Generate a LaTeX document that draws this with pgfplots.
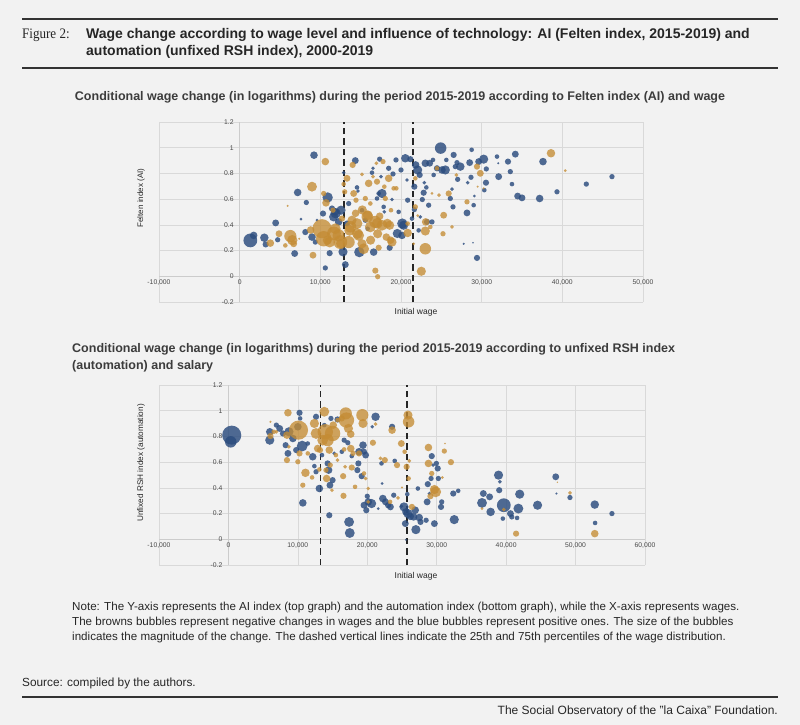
\documentclass[border=0pt]{standalone}
\usepackage{pgfplots}
\usepackage{pgfplotstable}
\pgfplotsset{compat=1.18}
\usepackage{fontspec}
\setmainfont{Liberation Sans}
\newfontfamily\serifcond{Liberation Serif}[FakeStretch=0.9]
\definecolor{bg}{HTML}{F2F2F2}
\definecolor{cBlue}{HTML}{2B4C7E}
\definecolor{cBrown}{HTML}{C48C34}
\definecolor{txt}{HTML}{262626}
\definecolor{gridc}{HTML}{D9D9D9}
\definecolor{rulec}{HTML}{333333}

% Top chart: wage, Felten index, bubble radius (pt)
\pgfplotstableread{
w v r
1322 0.279 6
1735 0.318 3.3
3058 0.300 3.7
3223 0.248 2.7
4463 0.415 3
4711 0.284 2.3
6818 0.177 3
7190 0.652 3.3
8264 0.574 2.3
7603 0.444 1.3
8140 0.344 2.7
9214 0.942 3.3
8967 0.305 3.3
9380 0.266 2.3
9586 0.436 1.3
10330 0.488 2.7
10619 0.065 2.3
10908 0.613 4.5
11156 0.180 2.7
11446 0.527 2.7
11652 0.462 4
11859 0.501 3.3
11900 0.490 4.5
12272 0.423 3.3
12561 0.514 4
12809 0.190 4
12892 0.806 1.7
13098 0.091 3
13305 0.410 2.7
13512 0.566 2.3
14338 0.900 3
14545 0.691 2
14669 0.663 1.7
14834 0.188 4.5
15164 0.514 2
15578 0.436 2.3
15867 0.370 2
16404 0.806 2
16528 0.840 1.7
16611 0.188 3.3
17024 0.605 2
17230 0.644 2
17354 0.911 2.3
17520 0.775 1.7
17644 0.644 4
17850 0.540 2
17933 0.501 1.7
18470 0.840 2.3
18594 0.222 2.7
18883 0.597 1.7
19007 0.796 2.3
19379 0.905 2.3
19540 0.333 4
19710 0.501 2
19999 0.827 2.3
20123 0.318 3.3
20160 0.410 4.5
20329 0.397 4
20536 0.918 3.7
20743 0.749 1.7
20825 0.592 2.3
21156 0.911 2.7
21362 0.449 2
21652 0.519 2.3
21652 0.697 2.7
21817 0.866 3.3
22065 0.827 4
22189 0.357 2
22313 0.788 2.7
22395 0.462 1.7
22643 0.597 2.3
22809 0.650 2.7
22891 0.728 1.7
23015 0.879 3.3
23139 0.691 2
23222 0.423 2.7
23428 0.553 2.3
23552 0.879 3
23842 0.423 2.3
23966 0.905 2
24048 0.788 2
24461 0.840 2.7
24916 0.997 5
25081 0.827 3.3
25494 0.827 4
25618 0.905 2
26114 0.605 2.3
26321 0.678 1.7
26445 0.540 2.3
26527 0.944 2.7
26734 0.853 2.3
26941 0.884 2.3
27023 0.754 2.3
27354 0.853 3.7
28180 0.493 3
28263 0.728 1.7
28511 0.884 3
28676 0.770 2.3
28759 0.984 2
29007 0.553 2
29089 0.624 1.3
29420 0.143 2.7
29626 0.892 3
30246 0.911 4
30329 0.670 2
30535 0.728 2.7
30577 0.835 2.3
31899 0.931 2
32106 0.775 3
32064 0.879 1
33263 0.892 2.7
33552 0.814 2.3
33758 0.717 2
34172 0.950 3
34461 0.624 3
34998 0.610 3
37188 0.605 3.3
37601 0.892 3.3
39337 0.657 2.3
42973 0.717 2.3
46154 0.775 2.3
27767 0.253 1
28924 0.261 0.7
}\topblue

\pgfplotstableread{
w v r
3801 0.258 3.3
4876 0.331 3
5661 0.240 2
5950 0.548 1
6281 0.313 5.3
6530 0.281 4.5
6694 0.253 3
7396 0.292 1
8800 0.360 3.3
8967 0.697 4.3
9090 0.164 3
10206 0.370 8.3
10413 0.292 6.7
10619 0.892 3.3
10413 0.644 2.3
10702 0.571 3.3
10870 0.281 4
11156 0.266 4.7
11570 0.514 2.3
11690 0.333 6
11859 0.370 4.7
12272 0.318 5.3
12479 0.266 6
12520 0.255 4
12685 0.449 2.7
12892 0.717 2
13016 0.657 2.3
13305 0.762 3
13512 0.266 5.3
13636 0.357 4.7
13750 0.385 5
13925 0.436 4
14007 0.866 2.7
14131 0.644 3
14370 0.490 3.3
14421 0.592 2.3
14545 0.410 4.7
14580 0.333 4.7
14751 0.318 4.7
15164 0.253 4
15200 0.516 4
15371 0.214 4.7
15164 0.793 1.7
15578 0.605 2.3
15820 0.463 5
15867 0.475 4.3
15991 0.723 3.3
16197 0.566 2
16197 0.384 4.7
16230 0.281 4
16528 0.775 1.7
16817 0.423 5.3
16941 0.879 1.7
17024 0.736 2.7
17060 0.412 4.7
17106 0.331 4
17230 0.222 2.7
17354 0.467 3.3
17644 0.397 4.7
17768 0.892 2.3
17933 0.697 2
18057 0.605 2.3
18181 0.305 3.3
18300 0.412 4
18470 0.762 3.3
18594 0.397 4
18710 0.281 3.3
18759 0.514 2
18883 0.266 4
19090 0.684 2
19420 0.684 2
16817 0.044 2.7
17106 -0.003 2.3
20825 0.337 3.7
20825 0.410 2
21569 0.253 1.3
21776 0.540 2.3
21776 0.762 2
22065 0.472 1.3
22519 0.039 4
23015 0.214 5
23015 0.352 4
23057 0.423 3.3
23635 0.384 2
23842 0.644 1.3
24461 0.840 2
24710 0.631 1.7
25205 0.331 2.3
25288 0.475 3
25908 0.644 2.7
26321 0.384 1.7
26858 0.788 1.7
28180 0.579 2.3
29420 0.853 2.7
29833 0.801 3
30246 0.684 1
38593 0.957 3.7
40370 0.822 1.3
29502 0.697 1
}\topbrown

% Bottom chart: wage, unfixed RSH index, bubble radius (pt)
\pgfplotstableread{
w v r
476 0.810 8.3
333 0.758 5
5953 0.771 4
5953 0.836 3.3
6905 0.888 2.3
7381 0.862 3
7857 0.823 2.7
8238 0.732 2.7
8572 0.668 3
8714 0.836 4
9286 0.784 3.3
9762 0.694 2.7
10000 0.875 3.3
10238 0.984 2.7
10334 0.940 2
10619 0.725 4.7
10715 0.283 3.3
11429 0.745 2
12143 0.642 3.3
12381 0.569 2
12619 0.953 2.7
12619 0.525 2.3
13096 0.395 3.3
13476 0.655 2
13810 0.888 2
14286 0.590 2.7
14429 0.538 3.3
14524 0.187 2.7
14619 0.421 3
14762 0.940 2.3
15000 0.460 2.7
15238 0.668 1.7
15715 0.932 2.7
16334 0.681 2
16667 0.771 2.3
17191 0.751 2.3
17381 0.135 4.3
17477 0.049 4.3
17762 0.647 2
18572 0.538 2.7
18715 0.590 2.7
18810 0.681 3.3
19191 0.491 2.7
19381 0.732 3.3
19524 0.265 3
19524 0.681 2.7
19762 0.655 3
19858 0.226 2.7
20000 0.335 2.3
20143 0.291 3.3
20619 0.278 4
21191 0.953 3.7
20715 0.875 1.7
21572 0.239 1.3
22048 0.590 2
22143 0.434 1.3
22239 0.317 3.3
22620 0.291 3
23000 0.265 2.7
23334 0.252 3
23572 0.875 2.7
23810 0.343 2.3
23953 0.610 2
24905 0.257 1.7
25286 0.252 4
25477 0.122 3
25572 0.213 3.3
25762 0.351 2
25858 0.200 4
26191 0.179 3.3
26667 0.174 3.3
26905 0.226 3.3
27001 0.075 4
27286 0.395 2
27477 0.169 3.3
27667 0.135 2.7
28477 0.148 2.3
28620 0.291 3
28715 0.429 2.7
28953 0.356 1.7
29191 0.473 2.3
29286 0.647 2.7
29477 0.577 1.7
29667 0.122 3
29953 0.590 2.3
30143 0.551 2.7
30239 0.473 2.3
30620 0.252 2.7
30715 0.291 2.3
32382 0.356 2.7
32524 0.153 4
33096 0.377 2
36525 0.283 4.3
36715 0.356 3
37620 0.330 3
37763 0.213 3.7
38906 0.499 4
39001 0.382 2.7
39096 0.447 1.7
39525 0.161 2
39667 0.265 6
40620 0.200 3
40810 0.174 2.3
41572 0.166 2
41763 0.239 4.3
41953 0.351 4
44525 0.265 4
47144 0.486 3
47239 0.356 1
49191 0.325 2.3
52763 0.270 3.7
52811 0.127 2
55239 0.200 2.3
25572 -0.003 1
}\botblue

\pgfplotstableread{
w v r
6048 0.803 2.7
6524 0.836 2
6905 0.836 1.7
6048 0.914 1
8572 0.984 3.3
8429 0.810 3.3
8429 0.616 2.7
8714 0.719 1.7
10000 0.603 2.3
10095 0.849 8.3
10238 0.668 2.7
10715 0.421 2.3
11095 0.517 3.7
11429 0.668 2
12048 0.481 2
12381 0.901 4
12619 0.823 4.7
12857 0.706 3.3
13096 0.543 2
13191 0.694 2.7
13572 0.771 4.7
13810 0.992 4.3
13953 0.836 6.7
14048 0.538 2.3
14143 0.473 3.3
14286 0.771 5.3
14524 0.694 3.3
14667 0.577 2.3
14905 0.382 1.7
15000 0.823 6.7
15096 0.888 3.3
15477 0.655 2
15715 0.616 1.7
15715 0.927 2
16334 0.940 2.7
16524 0.491 2.7
16572 0.338 2.7
16667 0.699 2
16810 0.564 1.7
16905 0.979 5.3
17000 0.927 6.7
17286 0.862 4
17619 0.818 3.3
17619 0.706 3.3
17762 0.558 2.7
17953 0.668 2.3
18238 0.408 2
18810 0.668 2.7
19286 0.966 5.3
19381 0.901 4
19524 0.512 2
19762 0.473 1.7
20143 0.395 1.7
20143 0.291 1.7
20810 0.751 2.7
21191 0.896 1.7
21905 0.629 1.7
22524 0.616 2.7
23572 0.849 3.3
23286 0.291 2
24286 0.577 2.7
24429 0.322 1.7
24905 0.745 3
25000 0.403 1
25381 0.681 2
25667 0.564 2.7
25858 0.966 4
25953 0.914 5
25953 0.473 2
26048 0.610 1.7
26429 0.252 2.7
28810 0.714 3.3
28810 0.590 3.3
29096 0.335 2.7
29286 0.512 2.3
29667 0.387 4
29858 0.369 4.7
30810 0.481 1.3
31096 0.686 2.3
32048 0.600 2.7
31191 0.745 0.7
41429 0.044 2.7
52763 0.044 3.3
49191 0.361 1.7
47382 0.444 0.7
39667 0.231 1.7
36525 0.239 1.3
}\botbrown

\pgfplotsset{
  bub/.style={
    scale only axis, height=180pt,
    axis lines=middle,
    axis line style={draw=gridc!85!gray, line width=0.6pt, -},
    grid=major, major grid style={draw=gridc, line width=0.6pt},
    major tick length=0pt,
    hide obscured x ticks=false, hide obscured y ticks=false,
    scaled x ticks=false, scaled y ticks=false,
    ymin=-0.2, ymax=1.2,
    ytick={-0.2,0,0.2,0.4,0.6,0.8,1,1.2},
    yticklabels={-0.2,0,0.2,0.4,0.6,0.8,1,1.2},
    tick label style={font=\fontsize{6.8}{8}\selectfont, text=black!72},
    yticklabel style={xshift=-2.5pt},
    clip=false, anchor=south west,
  },
  blueb/.style={only marks, mark=*, scatter,
    mark options={draw=none},
    scatter/use mapped color={draw=none, draw opacity=0, fill=cBlue},
    fill opacity=0.82,
    visualization depends on={1.15*\thisrow{r} \as \rad},
    scatter/@pre marker code/.append style={/tikz/mark size=\rad pt}},
  brownb/.style={only marks, mark=*, scatter,
    mark options={draw=none},
    scatter/use mapped color={draw=none, draw opacity=0, fill=cBrown},
    fill opacity=0.78,
    visualization depends on={1.15*\thisrow{r} \as \rad},
    scatter/@pre marker code/.append style={/tikz/mark size=\rad pt}},
  pct/.style={black!85, line width=1.3pt, dash pattern=on 6.5pt off 4pt},
}

\begin{document}
\begin{tikzpicture}
\fill[bg] (0,0) rectangle (800pt,-725pt);
% header
\draw[rulec, line width=2pt] (22pt,-19pt) -- (778pt,-19pt);
\node[anchor=west, inner sep=0, text=txt] at (22pt,-35pt) {\serifcond\fontsize{14.5}{16}\selectfont Figure 2:};
\node[anchor=west, inner sep=0, text=txt] at (86pt,-35pt) {\fontsize{14}{16}\selectfont\bfseries Wage change according to wage level and influence of technology: AI (Felten index, 2015-2019) and};
\node[anchor=west, inner sep=0, text=txt] at (86pt,-52pt) {\fontsize{14}{16}\selectfont\bfseries automation (unfixed RSH index), 2000-2019};
\draw[rulec, line width=2pt] (22pt,-68pt) -- (778pt,-68pt);

\node[inner sep=0, text=txt!90] at (400pt,-97pt) {\fontsize{12.5}{14}\selectfont\bfseries Conditional wage change (in logarithms) during the period 2015-2019 according to Felten index (AI) and wage};

% top chart
\begin{axis}[bub, at={(159pt,-302pt)}, width=484pt,
  xmin=-10000, xmax=50000,
  xtick={-10000,0,10000,20000,30000,40000,50000},
  xticklabels={{-10,000},{0},{10,000},{20,000},{30,000},{40,000},{50,000}}]
\addplot[blueb] table[x=w, y=v] {\topblue};
\addplot[brownb] table[x=w, y=v] {\topbrown};
\addplot[pct] coordinates {(12950,-0.2) (12950,1.2)};
\addplot[pct] coordinates {(21500,-0.2) (21500,1.2)};
\end{axis}
\node[rotate=90, inner sep=0, text=txt] at (141pt,-198pt) {\fontsize{8}{10}\selectfont Felten index (AI)};
\node[inner sep=0, text=txt] at (416pt,-312pt) {\fontsize{8.5}{10}\selectfont Initial wage};

\node[anchor=west, inner sep=0, text=txt!90] at (72pt,-349pt) {\fontsize{12.5}{14}\selectfont\bfseries Conditional wage change (in logarithms) during the period 2015-2019 according to unfixed RSH index};
\node[anchor=west, inner sep=0, text=txt!90] at (72pt,-366pt) {\fontsize{12.5}{14}\selectfont\bfseries (automation) and salary};

% bottom chart
\begin{axis}[bub, at={(159pt,-565pt)}, width=486pt,
  xmin=-10000, xmax=60000,
  xtick={-10000,0,10000,20000,30000,40000,50000,60000},
  xticklabels={{-10,000},{0},{10,000},{20,000},{30,000},{40,000},{50,000},{60,000}}]
\addplot[blueb] table[x=w, y=v] {\botblue};
\addplot[brownb] table[x=w, y=v] {\botbrown};
\addplot[pct] coordinates {(13250,-0.2) (13250,1.2)};
\addplot[pct] coordinates {(25700,-0.2) (25700,1.2)};
\end{axis}
\node[rotate=90, inner sep=0, text=txt] at (141pt,-463pt) {\fontsize{8.2}{10}\selectfont Unfixed RSH index (automation)};
\node[inner sep=0, text=txt] at (416pt,-576pt) {\fontsize{8.5}{10}\selectfont Initial wage};

% note
\node[anchor=west, inner sep=0, text=txt] at (72pt,-607pt) {\fontsize{11.6}{13}\selectfont Note: The Y-axis represents the AI index (top graph) and the automation index (bottom graph), while the X-axis represents wages.};
\node[anchor=west, inner sep=0, text=txt] at (72pt,-622pt) {\fontsize{11.6}{13}\selectfont The browns bubbles represent negative changes in wages and the blue bubbles represent positive ones. The size of the bubbles};
\node[anchor=west, inner sep=0, text=txt] at (72pt,-637pt) {\fontsize{11.6}{13}\selectfont indicates the magnitude of the change. The dashed vertical lines indicate the 25th and 75th percentiles of the wage distribution.};

\node[anchor=west, inner sep=0, text=txt] at (22pt,-683pt) {\fontsize{11.8}{13}\selectfont Source: compiled by the authors.};
\draw[rulec, line width=2pt] (22pt,-697pt) -- (778pt,-697pt);
\node[anchor=east, inner sep=0, text=txt] at (778pt,-711pt) {\fontsize{12}{13}\selectfont The Social Observatory of the "la Caixa" Foundation.};

\pgfresetboundingbox
\useasboundingbox (0,0) rectangle (800pt,-725pt);
\end{tikzpicture}
\end{document}
